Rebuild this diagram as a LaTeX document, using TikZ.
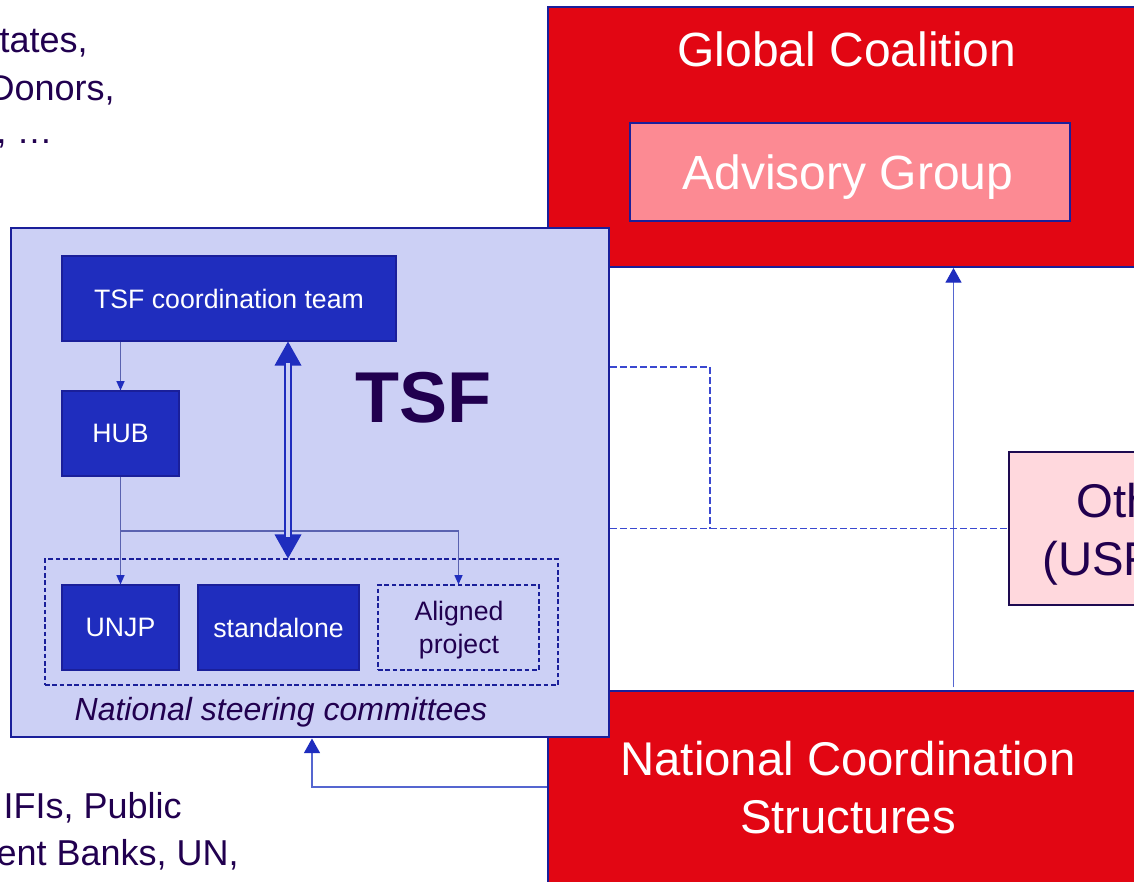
\documentclass[tikz,border=0pt]{standalone}
\usepackage{fontspec}
\setmainfont{Liberation Sans}
\usetikzlibrary{arrows.meta,fit}
\definecolor{gcred}{HTML}{E20613}
\definecolor{navy}{HTML}{1A1F9A}
\definecolor{lavender}{HTML}{CCD0F5}
\definecolor{boxblue}{HTML}{1F2DBE}
\definecolor{txtpurple}{HTML}{21004F}
\definecolor{agpink}{HTML}{FC8A93}
\definecolor{palepink}{HTML}{FFD8DD}
\definecolor{thinline}{HTML}{5A62B0}
\definecolor{linkblue}{HTML}{5566D0}
\definecolor{dashblue}{HTML}{3A48D0}
\definecolor{otherborder}{HTML}{1E0A50}
\begin{document}
\begin{tikzpicture}[x=0.75pt,y=-0.75pt,
  redbox/.style={draw=navy, line width=1.5pt, fill=gcred, inner sep=0pt},
  tsfbox/.style={draw=navy, line width=2.2pt, fill=lavender, inner sep=0pt},
  bluebox/.style={draw=navy, line width=0.8pt, fill=boxblue, inner sep=0pt},
  boxtxt/.style={inner sep=0pt, anchor=center, text=white, font=\fontsize{20}{24}\selectfont, text depth=0pt},
  dashbox/.style={draw=navy, line width=0.8pt, dash pattern=on 3.5pt off 2pt, inner sep=0pt},
  lbl/.style={inner sep=0pt, anchor=base},
  thinarrow/.style={draw=thinline, line width=0.9pt, -{Triangle[length=7pt,width=6pt,color=boxblue]}},
  linkarrow/.style={draw=linkblue, line width=1pt, -{Triangle[length=11pt,width=12pt,color=boxblue]}},
  dashlink/.style={draw=dashblue, line width=1pt, dash pattern=on 5pt off 2.5pt}]
\useasboundingbox (0,0) rectangle (1134,881);
\clip (0,0) rectangle (1134,881);
% outer red structures
\node[redbox, fit={(548,7) (1170,267)}] (gc) {};
\node[redbox, fit={(548,691) (1170,900)}] (ncs) {};
\node[draw=navy, line width=1.8pt, fill=agpink, inner sep=0pt, fit={(630,123) (1070,221)}] (ag) {};
\node[draw=otherborder, line width=1.5pt, fill=palepink, inner sep=0pt, fit={(1009,452) (1200,605)}] (other) {};
\node[lbl, text=white, font=\fontsize{36}{42}\selectfont] (gctxt) at (847,67) {Global Coalition};
\node[lbl, text=white, font=\fontsize{36}{42}\selectfont] (agtxt) at (848,189) {Advisory Group};
\node[lbl, text=white, font=\fontsize{35.5}{42}\selectfont] (ncstxt1) at (848,775) {National Coordination};
\node[lbl, text=white, font=\fontsize{35.5}{42}\selectfont] (ncstxt2) at (848,833) {Structures};
\node[lbl, anchor=base west, text=txtpurple, font=\fontsize{35.5}{42}\selectfont] (othtxt1) at (1076,517) {Other};
\node[lbl, anchor=base west, text=txtpurple, font=\fontsize{35.5}{42}\selectfont] (othtxt2) at (1042,575) {(USF)};
% TSF block
\node[tsfbox, fit={(11,228) (609,737)}] (tsf) {};
\node[bluebox, fit={(62,256) (396,341)}] (ctl) {};
\node[bluebox, fit={(62,391) (179,476)}] (hub) {};
\node[dashbox, fit={(45,559) (558,685)}] (nsc) {};
\node[bluebox, fit={(62,585) (179,670)}] (unjp) {};
\node[bluebox, fit={(198,585) (359,670)}] (sa) {};
\node[dashbox, fit={(378,585) (539,670)}] (al) {};
\node[boxtxt] (ctltxt) at (ctl.center) {TSF coordination team};
\node[boxtxt] (hubtxt) at (hub.center) {HUB};
\node[boxtxt] (unjptxt) at (unjp.center) {UNJP};
\node[boxtxt] (satxt) at (sa.center) {standalone};
\node[lbl, text=txtpurple, font=\fontsize{20}{24}\selectfont] (altxt1) at (459,620) {Aligned};
\node[lbl, text=txtpurple, font=\fontsize{20}{24}\selectfont] (altxt2) at (459,653) {project};
\node[lbl, text=txtpurple, font=\fontsize{54}{60}\selectfont\bfseries] (tsftxt) at (423,422) {TSF};
\node[lbl, text=txtpurple, font=\fontsize{24}{28}\selectfont\itshape] (nsctxt) at (281,720) {National steering committees};
% side texts
\node[lbl, anchor=base east, text=txtpurple, font=\fontsize{27}{32}\selectfont] (tl1) at (88,53) {tates,};
\node[lbl, anchor=base east, text=txtpurple, font=\fontsize{27}{32}\selectfont] (tl2) at (115,100) {Donors,};
\node[lbl, anchor=base east, text=txtpurple, font=\fontsize{27}{32}\selectfont] (tl3) at (53,143) {, …};
\node[lbl, anchor=base east, text=txtpurple, font=\fontsize{27}{32}\selectfont] (bl1) at (182,818) {IFIs, Public};
\node[lbl, anchor=base east, text=txtpurple, font=\fontsize{27}{32}\selectfont] (bl2) at (239,865) {ent Banks, UN,};
% connectors inside TSF
\coordinate (dx) at (288,0);
\coordinate (br) at (120.5,531);
\draw[thinarrow] (ctl.south -| hub.north) -- (hub.north);
\draw[thinarrow] (hub.south) -- (unjp.north);
\draw[thinarrow] (br) -| (al.north);
\draw[draw=boxblue, line width=1pt, {Triangle[length=18pt,width=20pt]}-{Triangle[length=18pt,width=20pt]}] (ctl.south -| dx) -- (nsc.north -| dx);
\draw[draw=boxblue, line width=1.5pt, double=lavender, double distance=2.6pt, shorten <=16pt, shorten >=16pt] (ctl.south -| dx) -- (nsc.north -| dx);
% outer connectors
\coordinate (vx) at (953.5,0);
\coordinate (bx) at (312,787);
\coordinate (dk) at (710,367);
\draw[linkarrow, shorten <=2pt] (ncs.north -| vx) -- (gc.south -| vx);
\draw[linkarrow] (ncs.west |- bx) -| (tsf.south -| bx);
\draw[dashlink] (tsf.east |- dk) -| (dk |- other.west);
\draw[dashlink] (tsf.east |- other.west) -- (other.west);
\end{tikzpicture}
\end{document}
